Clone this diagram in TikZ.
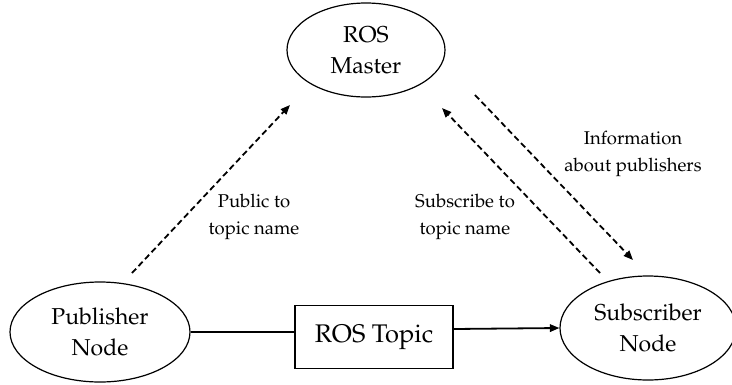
\documentclass[tikz,border=0pt]{standalone}
\usepackage[T1]{fontenc}
\usepackage{mathpazo}
\usetikzlibrary{arrows.meta,shapes.geometric}
\begin{document}
\begin{tikzpicture}[x=1pt,y=-1pt,
  nodetext/.style={font=\fontsize{23}{31}\selectfont, align=center},
  ellnode/.style={draw, ellipse, line width=1.2pt, nodetext, inner sep=0pt},
  topicbox/.style={draw, rectangle, line width=1.2pt, font=\fontsize{25.5}{30}\selectfont,
                   minimum width=158pt, minimum height=63pt, inner sep=0pt},
  lbl/.style={font=\fontsize{18.5}{26.5}\selectfont, align=center},
  flow/.style={line width=1.8pt, -{Triangle[length=9.5pt,width=7.5pt]}},
  msg/.style={line width=1.8pt, dash pattern=on 6pt off 3.5pt, -{Triangle[length=9.5pt,width=7.5pt]}}]
  \useasboundingbox (0,0) rectangle (732,384);
  \fill[white] (0,0) rectangle (732,384);

  % nodes
  \node[ellnode, minimum width=158pt, minimum height=94pt] (master) at (366,50) {ROS\\Master};
  \node[ellnode, minimum width=180pt, minimum height=100pt] (pub) at (100,332) {Publisher\\Node};
  \node[ellnode, minimum width=176pt, minimum height=104pt] (sub) at (648,328) {Subscriber\\Node};
  \node[topicbox] (topic) at (374,337) {ROS Topic};

  % data path through the topic
  \draw[line width=1.8pt] (pub.east) -- (pub.east -| topic.west);
  \draw[flow] (topic.east |- 0,329) -- (sub.west);

  % registration messages with the master
  \coordinate (p1) at (132,273); \coordinate (p2) at (290,105);
  \coordinate (s1) at (600,273); \coordinate (s2) at (442,108);
  \coordinate (i1) at (475,95);  \coordinate (i2) at (633,260);
  \draw[msg] (p1) -- (p2);
  \draw[msg] (s1) -- (s2);
  \draw[msg] (i1) -- (i2);

  % labels
  \node[lbl] (lp) at (254,217) {Public to\\topic name};
  \node[lbl] (ls) at (465,217) {Subscribe to\\topic name};
  \node[lbl] (li) at (633,154) {Information\\about publishers};
\end{tikzpicture}
\end{document}
